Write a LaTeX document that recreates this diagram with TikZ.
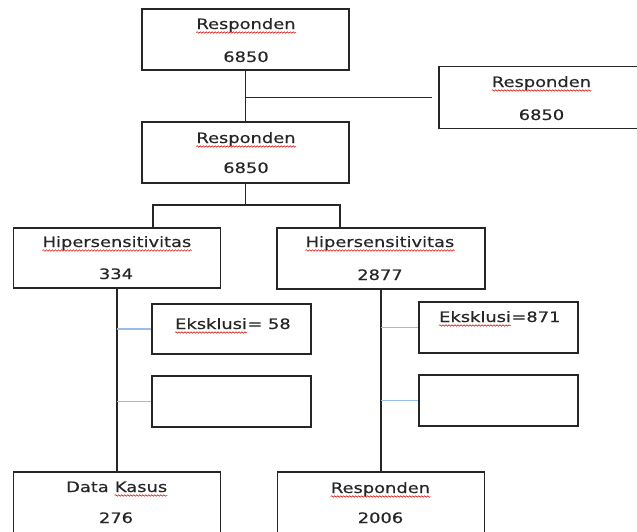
\documentclass[tikz,border=0pt]{standalone}
\usepackage{fontspec}
\setmainfont{DejaVu Sans}[FakeStretch=1.24,FakeBold=0.4]
\usetikzlibrary{decorations.pathmorphing}
\definecolor{lineblue}{RGB}{150,190,230}
\tikzset{
  box/.style={draw=black!85, line width=1.5pt, rectangle, inner sep=0pt},
  bigbox/.style={box, minimum width=207pt, minimum height=61pt},
  exbox/.style={box, minimum width=159pt, minimum height=51pt},
  txt/.style={inner sep=0pt, anchor=base, text=black!85, font=\fontsize{14.4}{17}\selectfont},
  conn/.style={draw=black!85, line width=1.5pt},
  bconn/.style={draw=lineblue, line width=1.3pt},
  squig/.style={draw=red!85!black, line width=0.5pt, decorate, decoration={snake, segment length=3pt, amplitude=0.8pt}}
}
\newcommand{\squnder}[1]{\draw[squig] ([yshift=-3.5pt]#1.base west) -- ([yshift=-3.5pt]#1.base east);}
\begin{document}
\begin{tikzpicture}[x=1pt,y=-1pt]
\useasboundingbox (0,0) rectangle (637,531);
\clip (0,0) rectangle (637,531);
% boxes
\node[bigbox] (A) at (245.5,39.5) {};
\node[bigbox, minimum height=62pt] (C) at (542.5,97.5) {};
\node[bigbox] (B) at (245.5,152.5) {};
\node[bigbox, minimum height=60pt] (D) at (117,258) {};
\node[bigbox, minimum width=208pt, minimum height=61pt] (E) at (381,258.5) {};
\node[exbox, minimum height=50pt] (L1) at (231.5,329) {};
\node[exbox] (L2) at (231.5,401.5) {};
\node[exbox] (R1) at (498.5,327.5) {};
\node[exbox] (R2) at (498.5,400.5) {};
\node[bigbox, minimum height=62pt] (F) at (117,503) {};
\node[bigbox, minimum height=62pt] (G) at (381,503) {};
% texts
\node[txt] (tA) at (246,29) {Responden};
\node[txt] (nA) at (246,62) {6850};
\node[txt] (tC) at (541.5,87) {Responden};
\node[txt] (nC) at (541.5,120) {6850};
\node[txt] (tB) at (246,143) {Responden};
\node[txt] (nB) at (246,173) {6850};
\node[txt] (tD) at (117,247) {Hipersensitivitas};
\node[txt] (nD) at (116,279) {334};
\node[txt] (tE) at (380,247) {Hipersensitivitas};
\node[txt] (nE) at (380,280) {2877};
\node[txt, anchor=base west] (tL1) at (175,329) {Eksklusi};
\node[txt, anchor=base west] (tL1b) at (tL1.base east) {= 58};
\node[txt, anchor=base west] (tR1) at (439,322) {Eksklusi};
\node[txt, anchor=base west] (tR1b) at (tR1.base east) {=871};
\node[txt, anchor=base west] (tF1) at (66,492) {Data};
\node[txt, anchor=base west] (tF) at ([xshift=5.7pt]tF1.base east) {Kasus};
\node[txt] (nF) at (116,523) {276};
\node[txt] (tG) at (380.5,493) {Responden};
\node[txt] (nG) at (380.5,523) {2006};
% spell-check underlines
\squnder{tA}
\squnder{tC}
\squnder{tB}
\squnder{tD}
\squnder{tE}
\squnder{tL1}
\squnder{tR1}
\squnder{tF}
\squnder{tG}
% connectors
\draw[conn] (A.south) -- (B.north);
\draw[conn] (A.south |- C.west) -- ([xshift=-6pt]C.west);
\coordinate (bj) at (245.5,205);
\draw[conn] ([xshift=36pt]D.north) |- (bj) -| ([xshift=-41pt]E.north);
\draw[conn] (B.south) -- (bj);
\draw[conn] (D.south) -- (F.north);
\draw[conn] (E.south) -- (G.north);
\draw[bconn] (D.south |- L1.west) -- (L1.west);
\draw[bconn] (D.south |- L2.west) -- (L2.west);
\draw[bconn] (E.south |- R1.west) -- (R1.west);
\draw[bconn] (E.south |- R2.west) -- (R2.west);
\end{tikzpicture}
\end{document}
